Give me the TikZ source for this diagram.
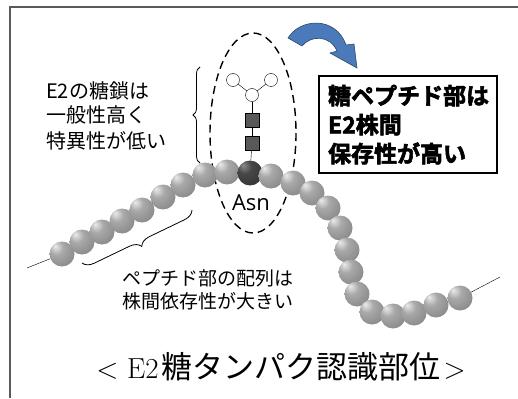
\documentclass[tikz,border=0pt]{standalone}
\usepackage{fontspec}
\newfontfamily\jp{Noto Sans CJK JP}
\newfontfamily\jpheavy{Noto Sans CJK JP Bold}[FakeBold=2.5]
\newfontfamily\asnfont{Open Sans}
\usepackage{tikz}
\usetikzlibrary{positioning}
\usetikzlibrary{decorations.pathreplacing}
\usetikzlibrary{backgrounds}
\definecolor{arrowblue}{RGB}{74,122,186}
\definecolor{framegray}{RGB}{90,90,90}
\pgfdeclareradialshading{beadshade}{\pgfpoint{-14bp}{16bp}}{color(0bp)=(white!92!black); color(14bp)=(black!34); color(42bp)=(black!50); color(66bp)=(black!74)}
\pgfdeclareradialshading{asnshade}{\pgfpoint{-14bp}{16bp}}{color(0bp)=(black!45); color(14bp)=(black!72); color(42bp)=(black!82); color(66bp)=(black!95)}
\tikzstyle{bead}=[circle,shading=beadshade,minimum size=25pt,inner sep=0pt]
\tikzstyle{asnbead}=[circle,shading=asnshade,minimum size=25pt,inner sep=0pt]
\tikzstyle{sugarbox}=[rectangle,draw=black,fill=black!65,minimum size=14pt,inner sep=0pt]
\tikzstyle{sugarball}=[circle,draw=black,fill=white,minimum size=13pt,inner sep=0pt]
\tikzstyle{bond} = [draw,thin]
\tikzstyle{note} = [font=\jp\fontsize{20}{25}\selectfont,align=left,inner sep=0pt]
\tikzset{brc/.style={draw,thick,decorate,decoration={brace,amplitude=#1}}}

\begin{document}
\begin{tikzpicture}[x=1pt,y=-1pt]
    \useasboundingbox (0,0) rectangle (518,398);

    % frame
    \draw[framegray,line width=1.5pt] (10,398) -- (10,7) -- (518,7);

    % dashed loop round the glycan
    \coordinate (glyco) at (253,133);
    \draw[line width=1.4pt,dash pattern=on 8pt off 5pt] (glyco) ellipse [x radius=43, y radius=100];

%chain of beads
    \foreach \pos/\name in {(62,254)/b1, (82,242)/b2, (102,232)/b3, (122,221)/b4,
                            (142,210)/b5, (163,197)/b6, (183,185)/b7, (205,175)/b8,
                            (227,172)/b9}
        \node[bead] (\name) at \pos {};
    \node[asnbead] (asn) at (250,173) {};
    \foreach \pos/\name in {(271,176)/b11, (293,183)/b12, (312,193)/b13, (328,208)/b14,
                            (340,228)/b15, (347,250)/b16, (351,272)/b17, (357,294)/b18,
                            (372,312)/b19, (393,316)/b20, (414,313)/b21, (436,305)/b22,
                            (460,298)/b23}
        \node[bead] (\name) at \pos {};

    \coordinate (lend) at (27,268);
    \coordinate (rend) at (500,277);
    \begin{pgfonlayer}{background}
        \foreach \source/\dest in {lend/b1, b1/b2, b2/b3, b3/b4, b4/b5, b5/b6, b6/b7,
                                   b7/b8, b8/b9, b9/asn, asn/b11, b11/b12, b12/b13,
                                   b13/b14, b14/b15, b15/b16, b16/b17, b17/b18,
                                   b18/b19, b19/b20, b20/b21, b21/b22, b22/b23, b23/rend}
            \path[bond] (\source) -- (\dest);
    \end{pgfonlayer}

%glycan
    \node[sugarbox] (s1) at (252,143) {};
    \node[sugarbox] (s2) at (252,120) {};
    \node[sugarball] (c1) at (252,95) {};
    \node[sugarball] (c2) at (233,80) {};
    \node[sugarball] (c3) at (271,80) {};
    \foreach \source/\dest in {asn/s1, s1/s2, s2/c1, c1/c2, c1/c3}
        \path[bond] (\source) -- (\dest);

    \node[font=\asnfont\fontsize{22}{22}\selectfont,inner sep=0pt] (asnlabel) at (251,203) {Asn};

%labels
    \node[note,anchor=north west] (glycannote) at (46,81) {E2の糖鎖は\\一般性高く\\特異性が低い};
    \path[brc=7pt] (200,163) -- (200,67);

    \node[note,font=\jp\fontsize{19}{23}\selectfont,anchor=north west] (peptnote) at (122,269)
        {ペプチド部の配列は\\株間依存性が大きい};
    \path[brc=11pt] (192,210) -- (82,263);

    \node[draw,line width=2.2pt,anchor=north west,align=left,text width=160pt,
          minimum height=97pt,inner xsep=9pt,inner ysep=4pt,
          font=\jpheavy\fontsize{23}{29}\selectfont] (keybox) at (318,75)
        {糖ペプチド部は\\E2株間\\保存性が高い};

    % curved arrow
    \filldraw[fill=arrowblue,draw=arrowblue!60!black,line width=0.6pt]
        (288,38) .. controls (300,18) and (336,16) .. (346,45) -- (354,44) -- (357,68)
        -- (330,53) -- (337,51) .. controls (330,35) and (311,35) .. (302,46) -- cycle;

    \node[font=\fontsize{29}{29}\selectfont] (title) at (281,367)
        {< E2\hspace{3pt}{\jp\fontsize{31}{31}\selectfont 糖タンパク認識部位}\hspace{3pt}>};
\end{tikzpicture}
\end{document}
